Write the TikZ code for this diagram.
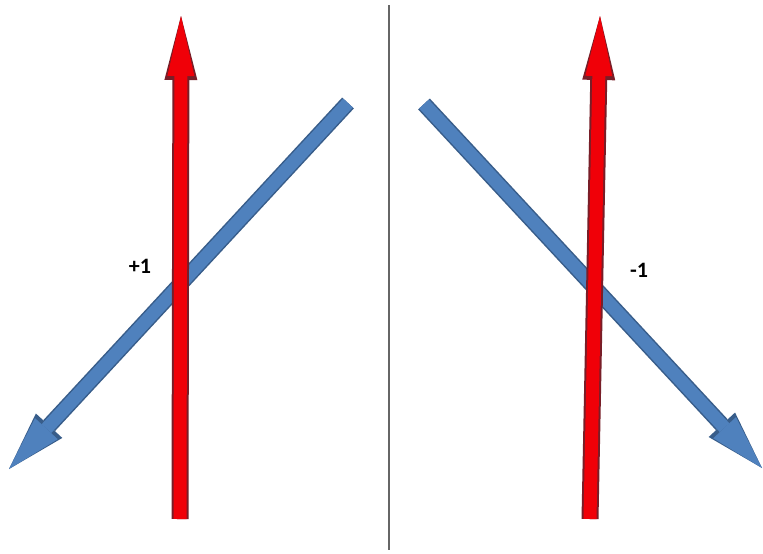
\documentclass[tikz,border=0pt]{standalone}
\usepackage{fontspec}
\setmainfont{Carlito}
\usepackage{tikz}
\usetikzlibrary{arrows.meta}
\definecolor{vecred}{RGB}{240,0,8}
\definecolor{vecredrim}{RGB}{120,30,40}
\definecolor{vecblue}{RGB}{79,129,189}
\definecolor{vecbluerim}{RGB}{56,93,138}
\tikzset{
  redvec/.style={
    draw=vecred,
    line width=13pt,
    line cap=butt,
    -{Triangle[length=60pt, width=27pt, line width=0pt]},
    preaction={draw=vecredrim, line width=17pt, line cap=butt,
      -{Triangle[length=64pt, width=33pt, line width=0pt]}}
  },
  bluevec/.style={
    draw=vecblue,
    line width=13pt,
    line cap=butt,
    -{Triangle[length=55pt, width=31pt, line width=0pt]},
    preaction={draw=vecbluerim, line width=16pt, line cap=butt,
      -{Triangle[length=59pt, width=36pt, line width=0pt]}}
  },
  divider/.style={draw=black!60, line width=2.5pt},
  signlabel/.style={font=\bfseries\fontsize{22}{24}\selectfont, inner sep=0pt}
}
\begin{document}
\begin{tikzpicture}[x=1pt, y=-1pt]
\useasboundingbox (0,0) rectangle (763,554);

% left panel
\coordinate (bluestartL) at (348,103);
\coordinate (blueendL) at (9,469);
\coordinate (redstartL) at (180,519);
\coordinate (redendL) at (181,16);
\draw[bluevec] (bluestartL) -- (blueendL);
\draw[redvec] (redstartL) -- (redendL);
\node[signlabel] (plusone) at (140,266) {+1};

% divider
\coordinate (divtop) at (389,5);
\coordinate (divbot) at (389,550);
\draw[divider] (divtop) -- (divbot);

% right panel
\coordinate (bluestartR) at (424,104);
\coordinate (blueendR) at (762,468);
\coordinate (redstartR) at (590,519);
\coordinate (redendR) at (600,16);
\draw[bluevec] (bluestartR) -- (blueendR);
\draw[redvec] (redstartR) -- (redendR);
\node[signlabel] (minusone) at (639,270) {-1};
\end{tikzpicture}
\end{document}
